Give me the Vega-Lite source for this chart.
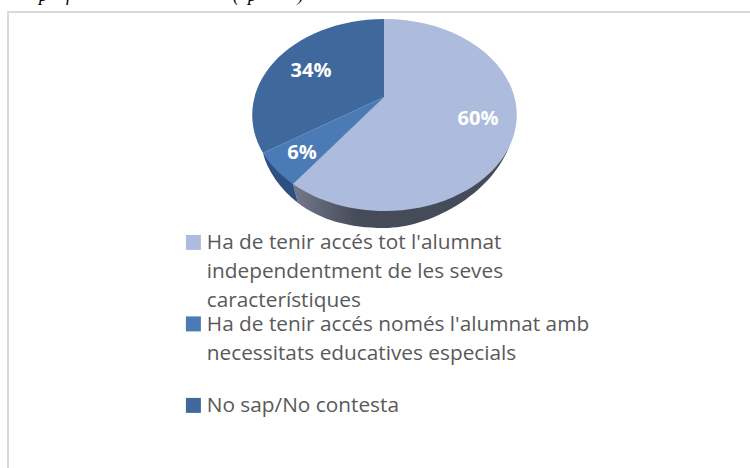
{"$schema":"https://vega.github.io/schema/vega-lite/v6.json","width":750,"height":468,"padding":0,"autosize":{"type":"none"},"background":"white","view":{"stroke":null},"config":{"style":{"guide-label":{"lineHeight":29,"dy":7}}},"datasets":{"slices":[{"c":"Ha de tenir accés tot l'alumnat independentment de les seves característiques","v":60,"l":"60%"},{"c":"Ha de tenir accés només l'alumnat amb necessitats educatives especials","v":6,"l":"6%"},{"c":"No sap/No contesta","v":34,"l":"34%"}]},"layer":[{"data":{"values":[{"part":"frame"}]},"mark":{"type":"point","filled":false,"stroke":"#d9d9d9","strokeWidth":2,"size":4,"opacity":1,"shape":"M-367 234 L-367 -222 L375 -222"}},{"data":{"values":[{"part":"side"}]},"mark":{"type":"point","filled":true,"size":4,"opacity":1,"strokeWidth":0,"shape":"M134 -87 C115 -39 55 -6 9 -6 C-25 -6 -55 -14 -77 -31 L-82 -50 L9 -137 Z","fill":{"gradient":"linear","x1":0,"y1":0,"x2":1,"y2":0,"stops":[{"offset":0,"color":"#75798b"},{"offset":0.3,"color":"#454b58"},{"offset":1,"color":"#454b58"}]}}},{"data":{"values":[{"part":"side2"}]},"mark":{"type":"point","filled":true,"size":4,"opacity":1,"strokeWidth":0,"fill":"#2d5080","shape":"M-112 -81 C-108 -64 -95 -45 -77 -31 L-82 -50 Z"}},{"data":{"name":"slices"},"mark":{"type":"point","filled":true,"size":4,"opacity":1,"strokeWidth":0},"encoding":{"shape":{"field":"l","type":"nominal","legend":null,"scale":{"domain":["60%","6%","34%"],"range":["M9 -137 L9 -215 A132 96 0 1 1 -82 -50 Z","M9 -137 L-82 -50 A132 96 0 0 1 -112 -81 Z","M9 -137 L-112 -81 A132 96 0 0 1 9 -215 Z"]}},"color":{"field":"c","type":"nominal","scale":{"domain":["Ha de tenir accés tot l'alumnat independentment de les seves característiques","Ha de tenir accés només l'alumnat amb necessitats educatives especials","No sap/No contesta"],"range":["#adbcdc","#4a7bb7","#3f699d"]},"legend":{"orient":"none","legendX":183,"legendY":232,"direction":"vertical","columns":1,"title":null,"symbolType":"square","symbolSize":225,"symbolOpacity":1,"symbolStrokeWidth":0,"labelFont":"Open Sans","labelFontSize":20.8,"labelColor":"#595959","labelLimit":600,"labelOffset":3,"labelBaseline":"alphabetic","rowPadding":1.5,"gridAlign":"all","labelExpr":"indexof(datum.label,'independentment')>0?['Ha de tenir accés tot l\\'alumnat','independentment de les seves','característiques']:indexof(datum.label,'necessitats')>0?['Ha de tenir accés només l\\'alumnat amb','necessitats educatives especials']:datum.label"}}}},{"data":{"name":"slices"},"transform":[{"filter":"datum.l=='60%'"}],"mark":{"type":"text","font":"Open Sans","fontWeight":"bold","fontSize":20,"color":"white","baseline":"middle"},"encoding":{"text":{"field":"l"},"x":{"value":478},"y":{"value":119}}},{"data":{"name":"slices"},"transform":[{"filter":"datum.l=='6%'"}],"mark":{"type":"text","font":"Open Sans","fontWeight":"bold","fontSize":20,"color":"white","baseline":"middle"},"encoding":{"text":{"field":"l"},"x":{"value":302},"y":{"value":153}}},{"data":{"name":"slices"},"transform":[{"filter":"datum.l=='34%'"}],"mark":{"type":"text","font":"Open Sans","fontWeight":"bold","fontSize":20,"color":"white","baseline":"middle"},"encoding":{"text":{"field":"l"},"x":{"value":311},"y":{"value":71}}},{"data":{"values":[{"t":"p\u00a0\u00a0\u00a0\u00a0f\u00a0\u00a0\u00a0\u00a0\u00a0\u00a0\u00a0\u00a0\u00a0\u00a0\u00a0\u00a0\u00a0\u00a0\u00a0\u00a0\u00a0\u00a0\u00a0\u00a0\u00a0\u00a0\u00a0\u00a0\u00a0\u00a0\u00a0\u00a0\u00a0\u00a0\u00a0\u00a0\u00a0\u00a0\u00a0\u00a0(\u00a0\u00a0p\u00a0\u00a0\u00a0\u00a0\u00a0\u00a0\u00a0\u00a0\u00a0)"}]},"mark":{"type":"text","font":"Liberation Serif","fontStyle":"italic","fontSize":18,"color":"#000000","baseline":"alphabetic","align":"left"},"encoding":{"text":{"field":"t"},"x":{"value":39},"y":{"value":1}}}]}
